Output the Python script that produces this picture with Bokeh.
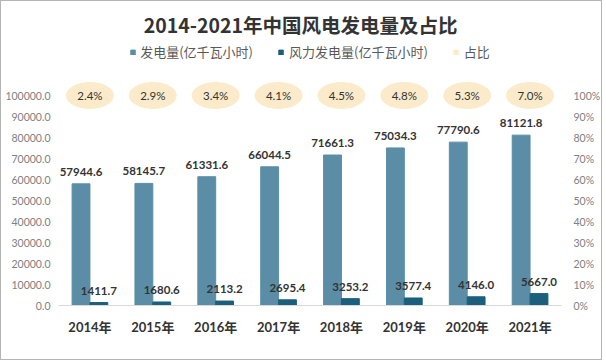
from bokeh.plotting import figure
from bokeh.models import (ColumnDataSource, Range1d, LinearAxis, FixedTicker,
                          NumeralTickFormatter, Legend, LegendItem, Label)
from bokeh.transform import dodge
from bokeh.core.properties import value
from bokeh.embed import file_html
from bokeh.resources import INLINE

years = ["2014年", "2015年", "2016年", "2017年", "2018年", "2019年", "2020年", "2021年"]
total = [57944.6, 58145.7, 61331.6, 66044.5, 71661.3, 75034.3, 77790.6, 81121.8]
wind = [1411.7, 1680.6, 2113.2, 2695.4, 3253.2, 3577.4, 4146.0, 5667.0]
share = [2.4, 2.9, 3.4, 4.1, 4.5, 4.8, 5.3, 7.0]
left_ticks = [0, 10000, 20000, 30000, 40000, 50000, 60000, 70000, 80000, 90000, 100000]
right_ticks = [0, 0.1, 0.2, 0.3, 0.4, 0.5, 0.6, 0.7, 0.8, 0.9, 1.0]
title_text = "2014-2021年中国风电发电量及占比"

FONT = "Lato, 'Noto Sans CJK SC', sans-serif"
CJK = "'Noto Sans CJK SC', Lato, sans-serif"
C_TOTAL = "#5b8ea6"
C_WIND = "#1b5f7d"
C_SHARE = "#fbebcb"
C_TEXT = "#333333"
C_TICK = "#808080"

W, H = 602, 360
FRAME_L, FRAME_R, FRAME_B = 57, 564, 304
# frame spans the full height above the x axis, 210 px per 100000
Y_TOP = FRAME_B / 210 * 100000
P_TOP = Y_TOP / 100000
BAND = (FRAME_R - FRAME_L) / len(years)

src = ColumnDataSource(dict(
    year=years, total=total, wind=wind,
    total_lbl=[f"{v:.1f}" for v in total],
    wind_lbl=[f"{v:.1f}" for v in wind],
    share=[s / 100 for s in share],
    share_lbl=[f"{s:.1f}%" for s in share],
    top=[right_ticks[-1]] * len(years),
))

p = figure(x_range=years, y_range=Range1d(0, Y_TOP), width=W, height=H,
           output_backend="svg", toolbar_location=None, title=None,
           min_border_left=FRAME_L, min_border_right=W - FRAME_R,
           min_border_bottom=H - FRAME_B, min_border_top=0)
p.extra_y_ranges = {"pct": Range1d(0, P_TOP)}
p.styles = {"border": "1px solid #b4b4b4"}
p.outline_line_color = None
p.xgrid.grid_line_color = None
p.ygrid.grid_line_color = None

w = 0.284
r_total = p.vbar(x=dodge("year", -w / 2, range=p.x_range), top="total", width=w,
                 source=src, color=C_TOTAL)
r_wind = p.vbar(x=dodge("year", w / 2, range=p.x_range), top="wind", width=w,
                source=src, color=C_WIND)
r_share_proxy = p.vbar(x="year", top=[float("nan")] * len(years), width=w,
                       color=C_SHARE)

p.ellipse(x="year", y="top", width=48, height=27, width_units="screen",
          height_units="screen", source=src, fill_color=C_SHARE, line_color=None,
          y_range_name="pct")
p.text(x="year", y="top", text="share_lbl", source=src, y_range_name="pct",
       text_align="center", text_baseline="middle", text_font=value(FONT),
       text_font_size="11.5px", text_color=C_TEXT)

p.text(x=dodge("year", -w / 2, range=p.x_range), y="total", text="total_lbl",
       source=src, text_align="center", text_baseline="middle",
       y_offset=-12, text_font=value(FONT), text_font_size="11.5px",
       text_font_style="bold", text_color=C_TEXT)
p.text(x=dodge("year", w / 2, range=p.x_range), y="wind", text="wind_lbl",
       source=src, text_align="center", text_baseline="middle",
       y_offset=-12, text_font=value(FONT), text_font_size="11.5px",
       text_font_style="bold", text_color=C_TEXT)

# axes
xa = p.xaxis[0]
xa.axis_line_color = "#d9d9d9"
xa.major_tick_line_color = None
xa.minor_tick_line_color = None
xa.major_tick_out = 0
xa.major_label_standoff = 13
xa.major_label_text_font = FONT
xa.major_label_text_font_size = "13px"
xa.major_label_text_font_style = "bold"
xa.major_label_text_color = C_TEXT

ya = p.yaxis[0]
ya.ticker = FixedTicker(ticks=left_ticks)
ya.formatter = NumeralTickFormatter(format="0.0")
ya.axis_line_color = None
ya.major_tick_line_color = None
ya.minor_tick_line_color = None
ya.major_tick_out = 0
ya.major_label_standoff = 8
ya.major_label_text_font = FONT
ya.major_label_text_font_size = "10.5px"
ya.major_label_text_color = C_TICK

ra = LinearAxis(y_range_name="pct", ticker=FixedTicker(ticks=right_ticks),
                formatter=NumeralTickFormatter(format="0%"))
ra.axis_line_color = None
ra.major_tick_line_color = None
ra.minor_tick_line_color = None
ra.major_tick_out = 0
ra.major_label_standoff = 12
ra.major_label_text_font = FONT
ra.major_label_text_font_size = "10.5px"
ra.major_label_text_color = C_TICK
p.add_layout(ra, "right")

legend = Legend(items=[
    LegendItem(label="发电量(亿千瓦小时)", renderers=[r_total]),
    LegendItem(label="风力发电量(亿千瓦小时)", renderers=[r_wind]),
    LegendItem(label="占比", renderers=[r_share_proxy]),
], orientation="horizontal", location="top_center")
legend.border_line_color = None
legend.background_fill_alpha = 0
legend.glyph_width = 6
legend.glyph_height = 6
legend.label_height = 18
legend.label_text_font = CJK
legend.label_text_font_size = "13px"
legend.label_text_color = "#595959"
legend.label_standoff = 5
legend.spacing = 25
legend.padding = 5
legend.margin = 41
p.add_layout(legend)

# title centred on the figure (frame centre sits right of it), 23 px from top
title = Label(x=len(years) / 2 - ((FRAME_L + FRAME_R) / 2 - 301) / BAND,
              y=Y_TOP * (FRAME_B - 23) / FRAME_B,
              text=title_text, text_align="center", text_baseline="middle",
              text_font=CJK, text_font_size="19.5px", text_font_style="bold",
              text_color=C_TEXT)
p.add_layout(title)

open("out.html", "w").write(file_html(p, INLINE))
